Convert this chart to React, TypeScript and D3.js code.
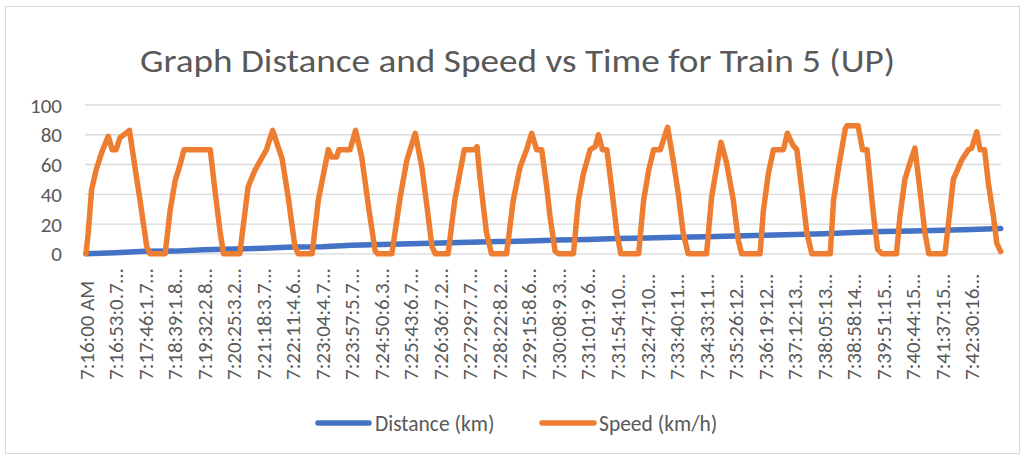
import React from "react";
import * as d3 from "d3";

const TITLE = "Graph Distance and Speed vs Time for Train 5 (UP)";

const TICK_LABELS = [
  "7:16:00 AM", "7:16:53:0.7…", "7:17:46:1.7…", "7:18:39:1.8…", "7:19:32:2.8…",
  "7:20:25:3.2…", "7:21:18:3.7…", "7:22:11:4.6…", "7:23:04:4.7…", "7:23:57:5.7…",
  "7:24:50:6.3…", "7:25:43:6.7…", "7:26:36:7.2…", "7:27:29:7.7…", "7:28:22:8.2…",
  "7:29:15:8.6…", "7:30:08:9.3…", "7:31:01:9.6…", "7:31:54:10…", "7:32:47:10…",
  "7:33:40:11…", "7:34:33:11…", "7:35:26:12…", "7:36:19:12…", "7:37:12:13…",
  "7:38:05:13…", "7:38:58:14…", "7:39:51:15…", "7:40:44:15…", "7:41:37:15…",
  "7:42:30:16…",
];

// seconds after 7:16:00 for each category label
const TICK_SEC = [
  0, 53, 106, 159, 212, 265, 318, 371, 424, 477, 530, 583, 636, 689, 742, 795,
  848, 901, 954, 1007, 1060, 1113, 1166, 1219, 1272, 1325, 1378, 1431, 1484, 1537, 1590,
];

const Y_TICKS = [0, 20, 40, 60, 80, 100];

// Distance (km) series: time (s after 7:16:00) and value
const DIST_SEC = [
  0, 53, 106, 159, 212, 265, 318, 371, 424, 477, 530, 583, 636, 689, 742, 795,
  848, 901, 954, 1007, 1060, 1113, 1166, 1219, 1272, 1325, 1378, 1431, 1484, 1537, 1590, 1642,
];
const DIST_KM = [
  0, 0.7, 1.7, 1.8, 2.8, 3.2, 3.7, 4.6, 4.7, 5.7, 6.3, 6.7, 7.2, 7.7, 8.2, 8.6,
  9.3, 9.6, 10.2, 10.6, 11.1, 11.5, 12.0, 12.4, 13.0, 13.5, 14.3, 15.0, 15.4, 15.8, 16.4, 17.0,
];

// Speed (km/h) series: time (s after 7:16:00) and value
const SPEED_SEC = [
  0, 4, 10, 18, 28, 40, 47, 54, 61, 78, 88, 97, 109, 115,
  142, 151, 160, 169, 176, 223, 232, 241, 247,
  276, 291, 303, 324, 335, 352, 363, 375, 381,
  406, 417, 435, 441, 450, 454, 474, 484, 495, 507, 519, 524,
  549, 564, 576, 591, 603, 612, 621, 627,
  650, 662, 679, 698, 702, 707, 719, 728,
  755, 767, 779, 791, 800, 809, 818, 827, 833, 842, 848,
  875, 884, 893, 905, 914, 920, 927, 935, 944, 953, 960,
  992, 1001, 1010, 1019, 1031, 1044, 1054, 1063, 1072, 1081,
  1114, 1123, 1132, 1140, 1150, 1162, 1171, 1177,
  1210, 1216, 1225, 1234, 1252, 1259, 1269, 1276, 1285, 1294, 1303,
  1336, 1342, 1351, 1363, 1366, 1386, 1394, 1402, 1408, 1414, 1421, 1429,
  1455, 1461, 1470, 1479, 1488, 1497, 1506, 1513,
  1542, 1549, 1557, 1572, 1584, 1590, 1599, 1605, 1613, 1620, 1629, 1635, 1642,
];
const SPEED_KMH = [
  0, 14, 43, 56, 68, 79, 70, 70, 78, 83, 58, 36, 5, 0,
  0, 29, 49, 60, 70, 70, 41, 14, 0,
  0, 45, 56, 70, 83, 64, 38, 5, 0,
  0, 36, 70, 65, 65, 70, 70, 83, 65, 32, 2, 0,
  0, 38, 63, 81, 58, 32, 5, 0,
  0, 36, 70, 70, 72, 52, 14, 0,
  0, 36, 58, 70, 81, 70, 70, 45, 25, 2, 0,
  0, 36, 54, 70, 72, 80, 70, 70, 43, 14, 0,
  0, 36, 56, 70, 70, 85, 63, 41, 14, 0,
  0, 38, 58, 75, 61, 36, 9, 0,
  0, 29, 54, 70, 70, 81, 73, 70, 43, 14, 0,
  0, 36, 58, 84, 86, 86, 70, 70, 47, 25, 3, 0,
  0, 25, 50, 61, 71, 43, 14, 0,
  0, 23, 50, 63, 70, 71, 82, 70, 70, 47, 25, 7, 1.5,
];

const W = 1026;
const H = 459;
const FONT = "Calibri, Carlito, Lato, 'Open Sans', sans-serif";
const TXT = "#595959";

export default function App() {
  const x = d3.scaleLinear().domain([0, 1642]).range([86, 1000.7]);
  const y = d3.scaleLinear().domain([0, 100]).range([253.8, 105]);

  const distData = DIST_SEC.map((t, i) => [t, DIST_KM[i]] as [number, number]);
  const speedData = SPEED_SEC.map((t, i) => [t, SPEED_KMH[i]] as [number, number]);
  const line = d3
    .line<[number, number]>()
    .x((d) => x(d[0]))
    .y((d) => y(d[1]));

  const gridX0 = x(0) - 1;
  const gridX1 = x(1642);

  return (
    <svg
      width={W}
      height={H}
      style={{ position: "absolute", left: 0, top: 0, background: "#fff" }}
      fontFamily={FONT}
    >
      <rect x={5.5} y={6.5} width={1014} height={447} fill="#fff" stroke="#d9d9d9" strokeWidth={1} />
      <text
        x={517.5}
        y={72}
        textAnchor="middle"
        fontSize={33}
        fontWeight={300}
        fill={TXT}
        textLength={755}
        lengthAdjust="spacingAndGlyphs"
      >
        {TITLE}
      </text>
      {Y_TICKS.map((v) => (
        <g key={v}>
          <line x1={gridX0} x2={gridX1} y1={y(v)} y2={y(v)} stroke="#d9d9d9" strokeWidth={1.3} />
          <text x={62} y={y(v)} dy="0.36em" textAnchor="end" fontSize={21} fill={TXT}>
            {v}
          </text>
        </g>
      ))}
      {TICK_LABELS.map((lab, i) => {
        const cx = x(TICK_SEC[i]);
        return (
          <text
            key={i}
            x={cx}
            y={380}
            dy="0.36em"
            transform={`rotate(-90, ${cx}, 380)`}
            textAnchor="start"
            fontSize={21}
            fill={TXT}
          >
            {lab}
          </text>
        );
      })}
      <path
        d={line(distData) || ""}
        fill="none"
        stroke="#4472c4"
        strokeWidth={5.5}
        strokeLinejoin="round"
        strokeLinecap="round"
      />
      <path
        d={line(speedData) || ""}
        fill="none"
        stroke="#ed7d31"
        strokeWidth={5.5}
        strokeLinejoin="round"
        strokeLinecap="round"
      />
      <line x1={318} x2={369} y1={423} y2={423} stroke="#4472c4" strokeWidth={5.5} strokeLinecap="round" />
      <text x={375} y={423} dy="0.36em" fontSize={21.5} fill={TXT}>
        Distance (km)
      </text>
      <line x1={542} x2={594} y1={423} y2={423} stroke="#ed7d31" strokeWidth={5.5} strokeLinecap="round" />
      <text x={599} y={423} dy="0.36em" fontSize={21.5} fill={TXT}>
        Speed (km/h)
      </text>
    </svg>
  );
}
